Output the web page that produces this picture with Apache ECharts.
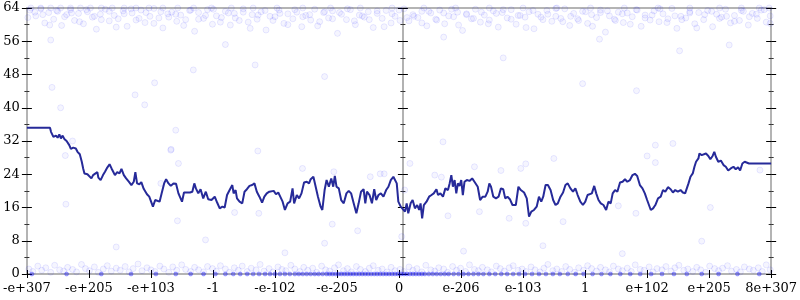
<!DOCTYPE html>
<html><head><meta charset="utf-8">
<script src="https://cdn.jsdelivr.net/npm/echarts@6/dist/echarts.min.js"></script>
<style>html,body{margin:0;padding:0;background:#fff}#c{width:800px;height:300px}</style>
</head><body><div id="c"></div>
<script>
const xLabels = ['-e+307','-e+205','-e+103','-1','-e-102','-e-205','0','e-206','e-103','1','e+102','e+205','8e+307'];
const yTicks = [0,8,16,24,32,40,48,56,64];

const lineX = [0,23.3,24.3,26.7,29.3,31,32.7,34.3,36,37.7,40,42.7,44.3,46.7,49.3,51,53.3,55.3,56.7,58,61,62.7,65,66.7,68.7,71,72,74.3,76.7,78.7,81,83.3,85.3,87,88.7,91,93.3,95.3,97.7,100,102.7,105.3,107.7,109.3,111,113.3,115.3,117.7,121,123.3,
127,129.3,131,133.7,136,138.3,140.3,142.7,145,147.7,150.3,152.7,154.3,156.3,158.3,161,164.3,166.7,168.7,170.3,172.7,175,177.7,180.3,182.7,186,189.3,191.7,194.3,197,199.3,201.7,204.3,207,208.3,210.3,211.7,214.3,217,219.3,221.7,224.3,227,229.3,231.7,234.3,237,239.3,241.7,244.3,
246,248.7,251,253.3,255.3,257.7,260,262.7,265.3,267.7,269.3,272,274.3,276.7,279.3,282,284.3,286,288.7,291,293.3,296,297.7,300,302,304.3,306.7,308.7,310.3,312,314.3,316.7,319.3,322,324.3,326.7,329.3,332,334.3,336.7,339.3,341,342.7,345.3,347.7,350,352,354.3,356.7,359.3,362,364.3,366.7,369.3,371,372.7,374.3,376.7,
378.7,381,382.7,384.3,386.7,388.7,391,393.3,395.3,396.7,398.3,400,402.7,405.3,407.7,410,412.7,414.3,416.7,419.3,421.7,424.3,426,427.7,429.3,431,432.7,434.3,436,437.7,439.3,441,443.3,446,448.7,451,452.7,454.3,456.7,459.3,462,464.3,466,467.7,470,472.7,475.3,477.7,480,482,484.3,486.7,489.3,492.7,495.3,497.7,
501,503.7,506,508.3,511,513.7,516,518.3,520.3,522.7,525,527.7,530.3,532.7,535,537.7,540.3,542.7,545,547.7,550.3,552.7,555,557.7,560.3,562.7,565,567,569.3,571.7,573.7,576,578.3,581,583.7,586,588.3,590.3,592.7,595,597.7,600.3,602.7,605,607.7,610.3,612.7,615,617.7,620.3,622.7,625,
628.7,631,633.3,636,638.7,641,643.3,646,648.7,651,653.3,656,658.7,661,663.3,665.3,666.7,668.7,671,672.7,674.3,676.7,677.7,680,682,684.3,686.7,688.7,691,692.7,694.3,696.7,699.3,702,704.3,706.7,709.3,712,714.3,716.7,718.7,721,723.3,725.3,727.7,750];
const lineY = [35.2,35.2,34.2,33.0,33.3,32.8,33.6,32.6,33.3,32.5,32.0,31.0,30.1,30.4,30.2,29.4,28.8,27.0,25.4,24.2,24.0,23.7,23.0,23.8,23.4,24.5,23.2,22.6,23.8,24.6,25.6,26.4,25.4,24.6,23.8,24.5,24.2,25.3,23.8,23.0,22.2,21.4,22.2,24.5,21.8,21.6,22.1,20.5,19.2,18.6,
16.2,17.8,18.2,17.4,19.6,21.8,22.8,21.8,21.2,21.8,21.7,19.4,19.8,17.4,19.6,19.6,19.6,19.8,21.8,20.6,19.4,20.4,18.2,19.8,18.0,17.8,18.6,17.2,15.8,16.2,16.0,19.0,20.2,21.4,19.4,20.2,18.2,17.4,17.0,19.8,20.4,21.2,21.4,21.8,19.8,18.6,17.2,18.6,19.4,19.8,
20.2,20.0,19.2,19.6,18.6,17.4,15.4,17.0,17.4,20.6,17.0,19.0,18.2,19.4,22.0,22.2,21.8,22.8,23.4,21.0,18.6,16.2,15.4,20.2,22.6,21.0,23.0,21.0,23.6,21.0,20.6,17.8,17.0,19.4,20.0,19.4,17.0,14.6,17.0,19.8,20.4,17.0,19.8,19.0,17.0,20.4,17.8,19.0,19.4,18.6,20.2,21.0,22.6,23.4,23.6,21.8,17.4,16.2,
15.8,15.0,17.0,14.6,17.0,17.8,15.8,16.6,15.4,17.0,13.4,16.6,17.4,18.6,19.0,19.4,20.4,19.0,19.4,18.6,20.6,20.2,21.8,23.8,21.0,22.6,19.4,21.8,21.2,22.6,19.0,22.2,22.6,22.4,23.0,22.2,22.6,21.0,17.8,18.6,18.6,19.8,21.8,21.0,18.6,18.2,18.6,20.6,20.4,18.2,18.6,18.0,16.6,16.6,21.0,20.2,
19.6,18.2,13.8,15.0,15.4,16.2,18.6,17.4,18.6,21.4,21.4,20.2,17.8,16.6,17.0,18.6,19.6,21.4,21.8,20.6,19.8,20.6,19.0,17.4,16.6,17.4,19.0,18.6,19.4,21.2,19.4,17.8,17.0,16.6,15.4,17.4,17.0,19.4,20.2,19.8,22.0,22.2,22.8,22.2,22.6,23.8,24.1,23.6,21.4,20.6,19.4,17.8,
15.4,15.8,16.6,18.2,18.6,20.2,19.8,20.9,20.4,19.6,20.2,19.8,20.2,19.6,19.4,19.4,21.8,23.4,24.2,25.8,27.0,27.8,29.0,28.6,28.9,29.0,28.4,27.6,28.4,29.4,28.2,27.0,27.3,26.2,25.8,24.9,25.4,25.8,25.2,25.7,24.9,26.6,27.0,26.8,26.6,26.6];

const topDots = [[3,63.5],[9,62.1],[14,63.8],[18,60.4],[22,62.9],[27,61.3],[31,63.2],[35,59.8],[40,62.4],[44,63.6],[48,61.0],[52,62.7],[57,60.2],[61,63.1],[66,61.8],[70,58.9],[74,62.5],[79,63.7],[83,60.9],[88,62.2],[92,61.4],[97,63.3],[101,59.6],[106,62.8],[110,61.1],[115,63.5],[119,60.5],[124,62.0],[128,63.9],[133,61.6],[137,59.2],[142,62.6],[146,63.0],[151,60.8],[155,62.3],[160,61.2],[164,63.4],[169,58.4],[173,62.9],[178,61.5],[182,63.6],[187,60.1],[191,62.1],[196,61.7],[200,63.2],[205,59.9],[209,62.7],[214,61.0],[218,63.8],[223,60.6],[227,62.4],[232,61.3],[236,63.1],[241,58.7],[245,62.0],[250,61.9],[254,63.5],[259,60.3],[263,62.6],[268,61.4],[272,63.0],[277,59.5],[281,62.2],[286,61.1],[290,63.7],[295,60.7],[299,62.9],[304,61.6],[308,63.3],[313,57.9],[317,62.5],[322,61.2],[326,63.6],[331,60.0],[335,62.3],[340,61.8],[344,63.1],[349,59.3],[353,62.7],[358,61.5],[362,63.4],[367,60.4],[371,62.0],[376,61.0],[380,63.8],[385,60.9],[389,62.4],[394,61.7],[398,63.2],[403,59.7],[407,62.8],[412,61.3],[416,63.5],[421,60.2],[425,62.1],[430,61.9],[434,63.0],[439,58.6],[443,62.6],[448,61.4],[452,63.7],[457,60.6],[461,62.3],[466,61.1],[470,63.3],[475,59.4],[479,62.9],[484,61.6],[488,63.6],[493,60.1],[497,62.2],[502,61.8],[506,63.1],[511,59.0],[515,62.5],[520,61.2],[524,63.4],[529,60.8],[533,62.0],[538,61.5],[542,63.8],[547,59.8],[551,62.7],[556,61.0],[560,63.2],[565,60.3],[569,62.4],[574,61.7],[578,63.5],[583,58.2],[587,62.1],[592,61.3],[596,63.0],[601,60.5],[605,62.8],[610,61.9],[614,63.6],[619,59.6],[623,62.3],[628,61.1],[632,63.3],[637,60.7],[641,62.6],[646,61.4],[650,63.9],[655,59.1],[659,62.0],[664,61.6],[668,63.1],[673,60.2],[677,62.9],[682,61.2],[686,63.4],[691,59.5],[695,62.5],[700,61.8],[704,63.7],[709,60.4],[713,62.2],[718,61.0],[722,63.2],[727,59.9],[731,62.7],[736,61.5],[740,63.5],[745,60.6],[749,62.1]];

const topDots2 = [[1,61.7],[8,63.0],[16,62.4],[23,59.9],[30,63.4],[38,61.9],[45,62.8],[53,60.7],[60,63.6],[68,62.0],[75,61.2],[83,63.2],[90,59.4],[98,62.6],[105,63.8],[113,61.5],[120,62.9],[128,60.3],[135,63.1],[143,61.8],[150,62.5],[158,59.8],[165,63.5],[173,61.3],[180,62.2],[188,63.7],[195,60.6],[203,62.8],[210,61.6],[218,63.0],[225,59.1],[233,62.3],[240,63.4],[248,61.0],[255,62.7],[263,60.0],[270,63.6],[278,61.9],[285,62.4],[293,59.7],[300,63.1],[308,61.4],[315,62.9],[323,63.8],[330,60.9],[338,62.1],[345,61.2],[353,63.3],[360,59.5],[368,62.6],[375,63.5],[383,61.7],[390,62.0],[398,60.4],[405,63.2],[413,61.1],[420,62.8],[428,63.7],[435,59.9],[443,62.4],[450,61.5],[458,63.0],[465,60.2],[473,62.7],[480,63.6],[488,61.3],[495,62.2],[503,59.3],[510,63.4],[518,61.8],[525,62.5],[533,63.9],[540,60.7],[548,62.0],[555,61.4],[563,63.1],[570,59.6],[578,62.9],[585,63.3],[593,61.0],[600,62.6],[608,60.1],[615,63.5],[623,61.6],[630,62.3],[638,63.8],[645,60.5],[653,62.1],[660,61.2],[668,62.8],[675,59.2],[683,62.4],[690,63.2],[698,61.5],[705,62.0],[713,60.8],[720,63.4],[728,61.9],[735,62.5],[743,63.6],[749,60.3]];

const topEdgeDots = [[4,64],[14,64],[24,64],[34,64],[44,64],[54,64],[64,64],[75,64],[86,64],[98,64],[110,64],[123,64],[137,64],[152,64],[168,64],[186,64],[206,64],[228,64],[252,64],[278,64],[306,64],[336,64],[368,64],[400,64],[432,64],[466,64],[500,64],[534,64],[568,64],[602,64],[636,64],[668,64],[698,64],[720,64],[738,64],[748,64]];

const midDots = [[46,32.0],[38.7,28.5],[39.3,16.8],[25.3,44.9],[128.7,46.0],[109,43.1],[167.7,49.1],[24,56.3],[34,40.0],[118.7,40.7],[150,34.6],[145.3,30.0],[152.7,26.6],[135,21.8],[151.7,12.8],[209.3,14.8],[233.7,14.6],[232.7,29.6],[145,29.8],[277.7,25.4],[309.3,24.6],[346,23.4],[356,24.1],[360,24.1],[307.7,12.0],[386,26.6],[411,23.8],[451,25.8],[477.7,24.9],[380.7,20.2],[424.3,14.0],[456,15.0],[486,13.4],[502.7,26.5],[497.7,25.4],[531,27.8],[540.3,12.6],[596,16.4],[613.7,14.6],[625,28.4],[502.7,12.2],[633.3,31.0],[651,31.4],[633.3,26.8],[688.7,16.0],[738.7,25.0],[657.7,53.7],[707.7,55.1],[614.3,44.1],[577,56.5],[333.3,10.4],[419.3,31.8],[417.7,23.3],[377.7,9.0],[90,6.5],[180,8.2],[260,5.1],[300,7.4],[520,6.8],[600,4.9],[680,7.9],[440,5.5],[230,50.3],[300,47.5],[480,52.0],[560,45.8],[420,57.0],[200,55.2]];

const bottomDots = [[2,1.2],[6,0.6],[11,1.9],[15,0.9],[19,1.5],[24,0.4],[28,2.1],[33,1.0],[37,0.7],[41,1.6],[46,1.1],[50,0.5],[55,2.3],[59,1.3],[63,0.8],[68,1.7],[72,0.4],[77,1.2],[81,2.0],[85,0.7],[90,1.4],[94,0.9],[99,1.8],[103,0.5],[107,1.3],[112,2.4],[116,0.8],[121,1.5],[125,1.0],[129,0.6],[134,1.9],[138,1.2],[143,0.4],[147,1.7],[151,0.9],[156,2.2],[160,1.1],[165,0.6],[169,1.6],[173,1.0],[178,0.5],[182,1.8],[187,1.3],[191,0.7],[195,2.0],[200,1.2],[204,0.4],[209,1.5],[213,0.9],[217,1.9],[222,0.6],[226,1.4],[231,1.0],[235,2.3],[239,0.7],[244,1.3],[248,0.5],[253,1.7],[257,1.1],[261,0.8],[266,2.1],[270,1.2],[275,0.6],[279,1.6],[283,0.9],[288,1.4],[292,0.4],[297,1.9],[301,1.0],[305,0.7],[310,1.5],[314,2.2],[319,0.8],[323,1.3],[327,0.5],[332,1.8],[336,1.1],[341,0.6],[345,1.4],[349,2.0],[354,0.9],[358,1.2],[363,0.5],[367,1.6],[371,0.8],[376,1.1],[380,0.6],[385,1.7],[389,0.9],[393,1.3],[398,0.5],[402,2.1],[407,1.0],[411,0.7],[415,1.5],[420,1.2],[424,0.4],[429,1.8],[433,0.9],[437,1.4],[442,0.6],[446,2.2],[451,1.1],[455,0.8],[459,1.6],[464,1.0],[468,0.5],[473,1.9],[477,1.3],[481,0.7],[486,1.5],[490,2.0],[495,0.9],[499,1.2],[503,0.6],[508,1.7],[512,1.0],[517,0.5],[521,1.4],[525,2.3],[530,0.8],[534,1.2],[539,0.6],[543,1.8],[547,1.1],[552,0.4],[556,1.5],[561,0.9],[565,2.0],[569,1.3],[574,0.7],[578,1.6],[583,1.0],[587,0.5],[591,1.9],[596,1.2],[600,0.8],[605,1.4],[609,0.6],[613,2.2],[618,1.1],[622,0.9],[627,1.7],[631,0.5],[635,1.3],[640,1.0],[644,1.8],[649,0.7],[653,1.5],[657,2.1],[662,0.9],[666,1.2],[671,0.6],[675,1.6],[679,1.0],[684,0.4],[688,1.9],[693,1.3],[697,0.8],[701,1.4],[706,2.0],[710,0.7],[715,1.1],[719,0.5],[723,1.7],[728,1.2],[732,0.9],[737,1.5],[741,0.6],[745,2.2],[749,1.0]];

const zeroDots = [[5,0],[40,0],[75,0],[105,0],[130,0],[150,0],[165,0],[178,0],[190,0],[200,0],[208,0],[215,0],[222,0],[228,0],[234,0],[240,0],[245,0],[250,0],[255,0],[260,0],[265,0],[270,0],[274,0],[278,0],[282,0],[286,0],[290,0],[294,0],[298,0],[302,0],[305,0],[308,0],[311,0],[314,0],[317,0],[320,0],[323,0],[326,0],[329,0],[332,0],[335,0],[338,0],[341,0],[344,0],[347,0],[350,0],[353,0],[356,0],[359,0],[362,0],[365,0],[368,0],[371,0],[374,0],[377,0],[380,0],[383,0],[386,0],[389,0],[392,0],[395,0],[398,0],[401,0],[405,0],[409,0],[413,0],[417,0],[421,0],[425,0],[430,0],[435,0],[440,0],[445,0],[450,0],[455,0],[460,0],[466,0],[472,0],[478,0],[484,0],[490,0],[496,0],[502,0],[509,0],[516,0],[523,0],[530,0],[537,0],[545,0],[553,0],[561,0],[570,0],[579,0],[588,0],[598,0],[608,0],[618,0],[629,0],[640,0],[652,0],[665,0],[680,0],[697,0],[716,0],[738,0]];

const chart = echarts.init(document.getElementById('c'), null, {renderer:'canvas'});
const FONT = 'DejaVu Serif';
const AXIS_GRAY = '#b4b4b4';
function yAx(pos, offset, inside, showLine, labels, lineColor, lineWidth){
  return {
    type:'value', position:pos, offset:offset, min:yTicks[0], max:yTicks[yTicks.length-1], interval:8,
    splitLine:{show:false},
    axisLine:{show:showLine, onZero:false, lineStyle:{color:lineColor||AXIS_GRAY, width:lineWidth||2}},
    axisTick:{show:true, inside:inside, length:5, lineStyle:{color:'#000', width:1}},
    minorTick:{show:true, splitNumber:2, length:2.5, lineStyle:{color:'#333', width:1}},
    axisLabel:{show:labels, margin:7, color:'#000', fontFamily:FONT, fontSize:13, showMinLabel:true, showMaxLabel:true}
  };
}
const option = {
  animation:false,
  backgroundColor:'#fff',
  grid:{left:24, right:26, top:8, bottom:26, show:false},
  xAxis:[
    {type:'value', position:'bottom', min:0, max:750, interval:62.5,
     splitLine:{show:false},
     axisLine:{show:true, onZero:false, lineStyle:{color:AXIS_GRAY, width:2}},
     axisTick:{show:true, inside:false, length:4, lineStyle:{color:'#000', width:1}},
     axisLabel:{margin:8, color:'#000', fontFamily:FONT, fontSize:13, showMinLabel:true, showMaxLabel:true,
       formatter:function(v){ return xLabels[Math.round(v/62.5)] || ''; }}},
    {type:'value', position:'bottom', min:0, max:750, interval:62.5,
     splitLine:{show:false}, axisLine:{show:false, onZero:false},
     axisTick:{show:true, inside:true, length:4, lineStyle:{color:'#000', width:1}},
     axisLabel:{show:false}},
    {type:'value', position:'top', min:0, max:750, interval:62.5,
     splitLine:{show:false}, axisLine:{show:true, onZero:false, lineStyle:{color:AXIS_GRAY, width:2}},
     axisTick:{show:false}, axisLabel:{show:false}}
  ],
  yAxis:[
    yAx('left', 0, false, true, true),
    yAx('left', 0, true, false, false),
    yAx('right', 0, false, true, false),
    yAx('right', 0, true, false, false),
    yAx('left', -376, false, true, false, '#999', 1.5),
    yAx('left', -376, true, false, false)
  ],
  series:[
    {type:'scatter', data:topDots.concat(topDots2, topEdgeDots, midDots, bottomDots), symbolSize:6, z:2, silent:true,
     itemStyle:{color:'rgba(0,0,255,0.05)', borderColor:'rgba(0,0,255,0.11)', borderWidth:1}},
    {type:'scatter', data:zeroDots, symbolSize:4, z:2, silent:true,
     itemStyle:{color:'rgba(0,0,255,0.4)', borderColor:'rgba(0,0,255,0.3)', borderWidth:1}},
    {type:'line', data:lineX.map(function(x,i){return [x, lineY[i]];}), showSymbol:false, symbol:'none', z:5, silent:true,
     lineStyle:{color:'#262a99', width:2}}
  ]
};
chart.setOption(option);
</script></body></html>
